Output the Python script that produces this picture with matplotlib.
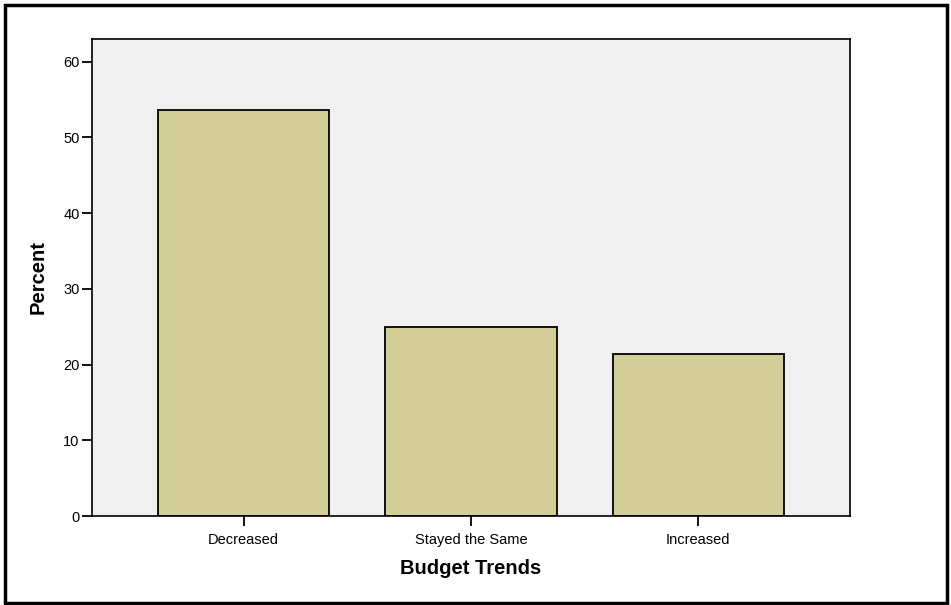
import matplotlib
matplotlib.use("Agg")
import matplotlib.pyplot as plt
from matplotlib.patches import Rectangle

categories = ["Decreased", "Stayed the Same", "Increased"]
percent = [53.6, 25.0, 21.4]
yticks = [0, 10, 20, 30, 40, 50, 60]

plt.rcParams["font.family"] = ["Liberation Sans", "DejaVu Sans"]

fig = plt.figure(figsize=(9.51, 6.05), dpi=100)
ax = fig.add_axes([92/951, 1-516/605, (850-92)/951, (516-39)/605])
ax.set_facecolor("#f0f0f0")

x = range(len(categories))
ax.bar(x, percent, width=0.753, color="#d3ce97", edgecolor="black", linewidth=1.3, zorder=2)

ax.set_xlim(-0.667, 2.667)
ax.set_ylim(0, 63)
ax.set_yticks(yticks)
ax.set_xticks(list(x))
ax.set_xticklabels(categories)
ax.tick_params(axis="both", direction="out", length=7, width=1.3, labelsize=10.5, colors="black")
ax.tick_params(axis="x", pad=5)
ax.tick_params(axis="y", pad=2)
for s in ax.spines.values():
    s.set_linewidth(1.2)
    s.set_color("black")

ax.set_xlabel("Budget Trends", fontsize=14.5, fontweight="bold", labelpad=9)
ax.set_ylabel("Percent", fontsize=14.5, fontweight="bold", labelpad=11)

# outer frame
fig.patches.append(Rectangle((5/951, 2/605), 942/951, 598/605, transform=fig.transFigure,
                             fill=False, edgecolor="black", linewidth=2.5))

fig.savefig("out.png", dpi=100)
